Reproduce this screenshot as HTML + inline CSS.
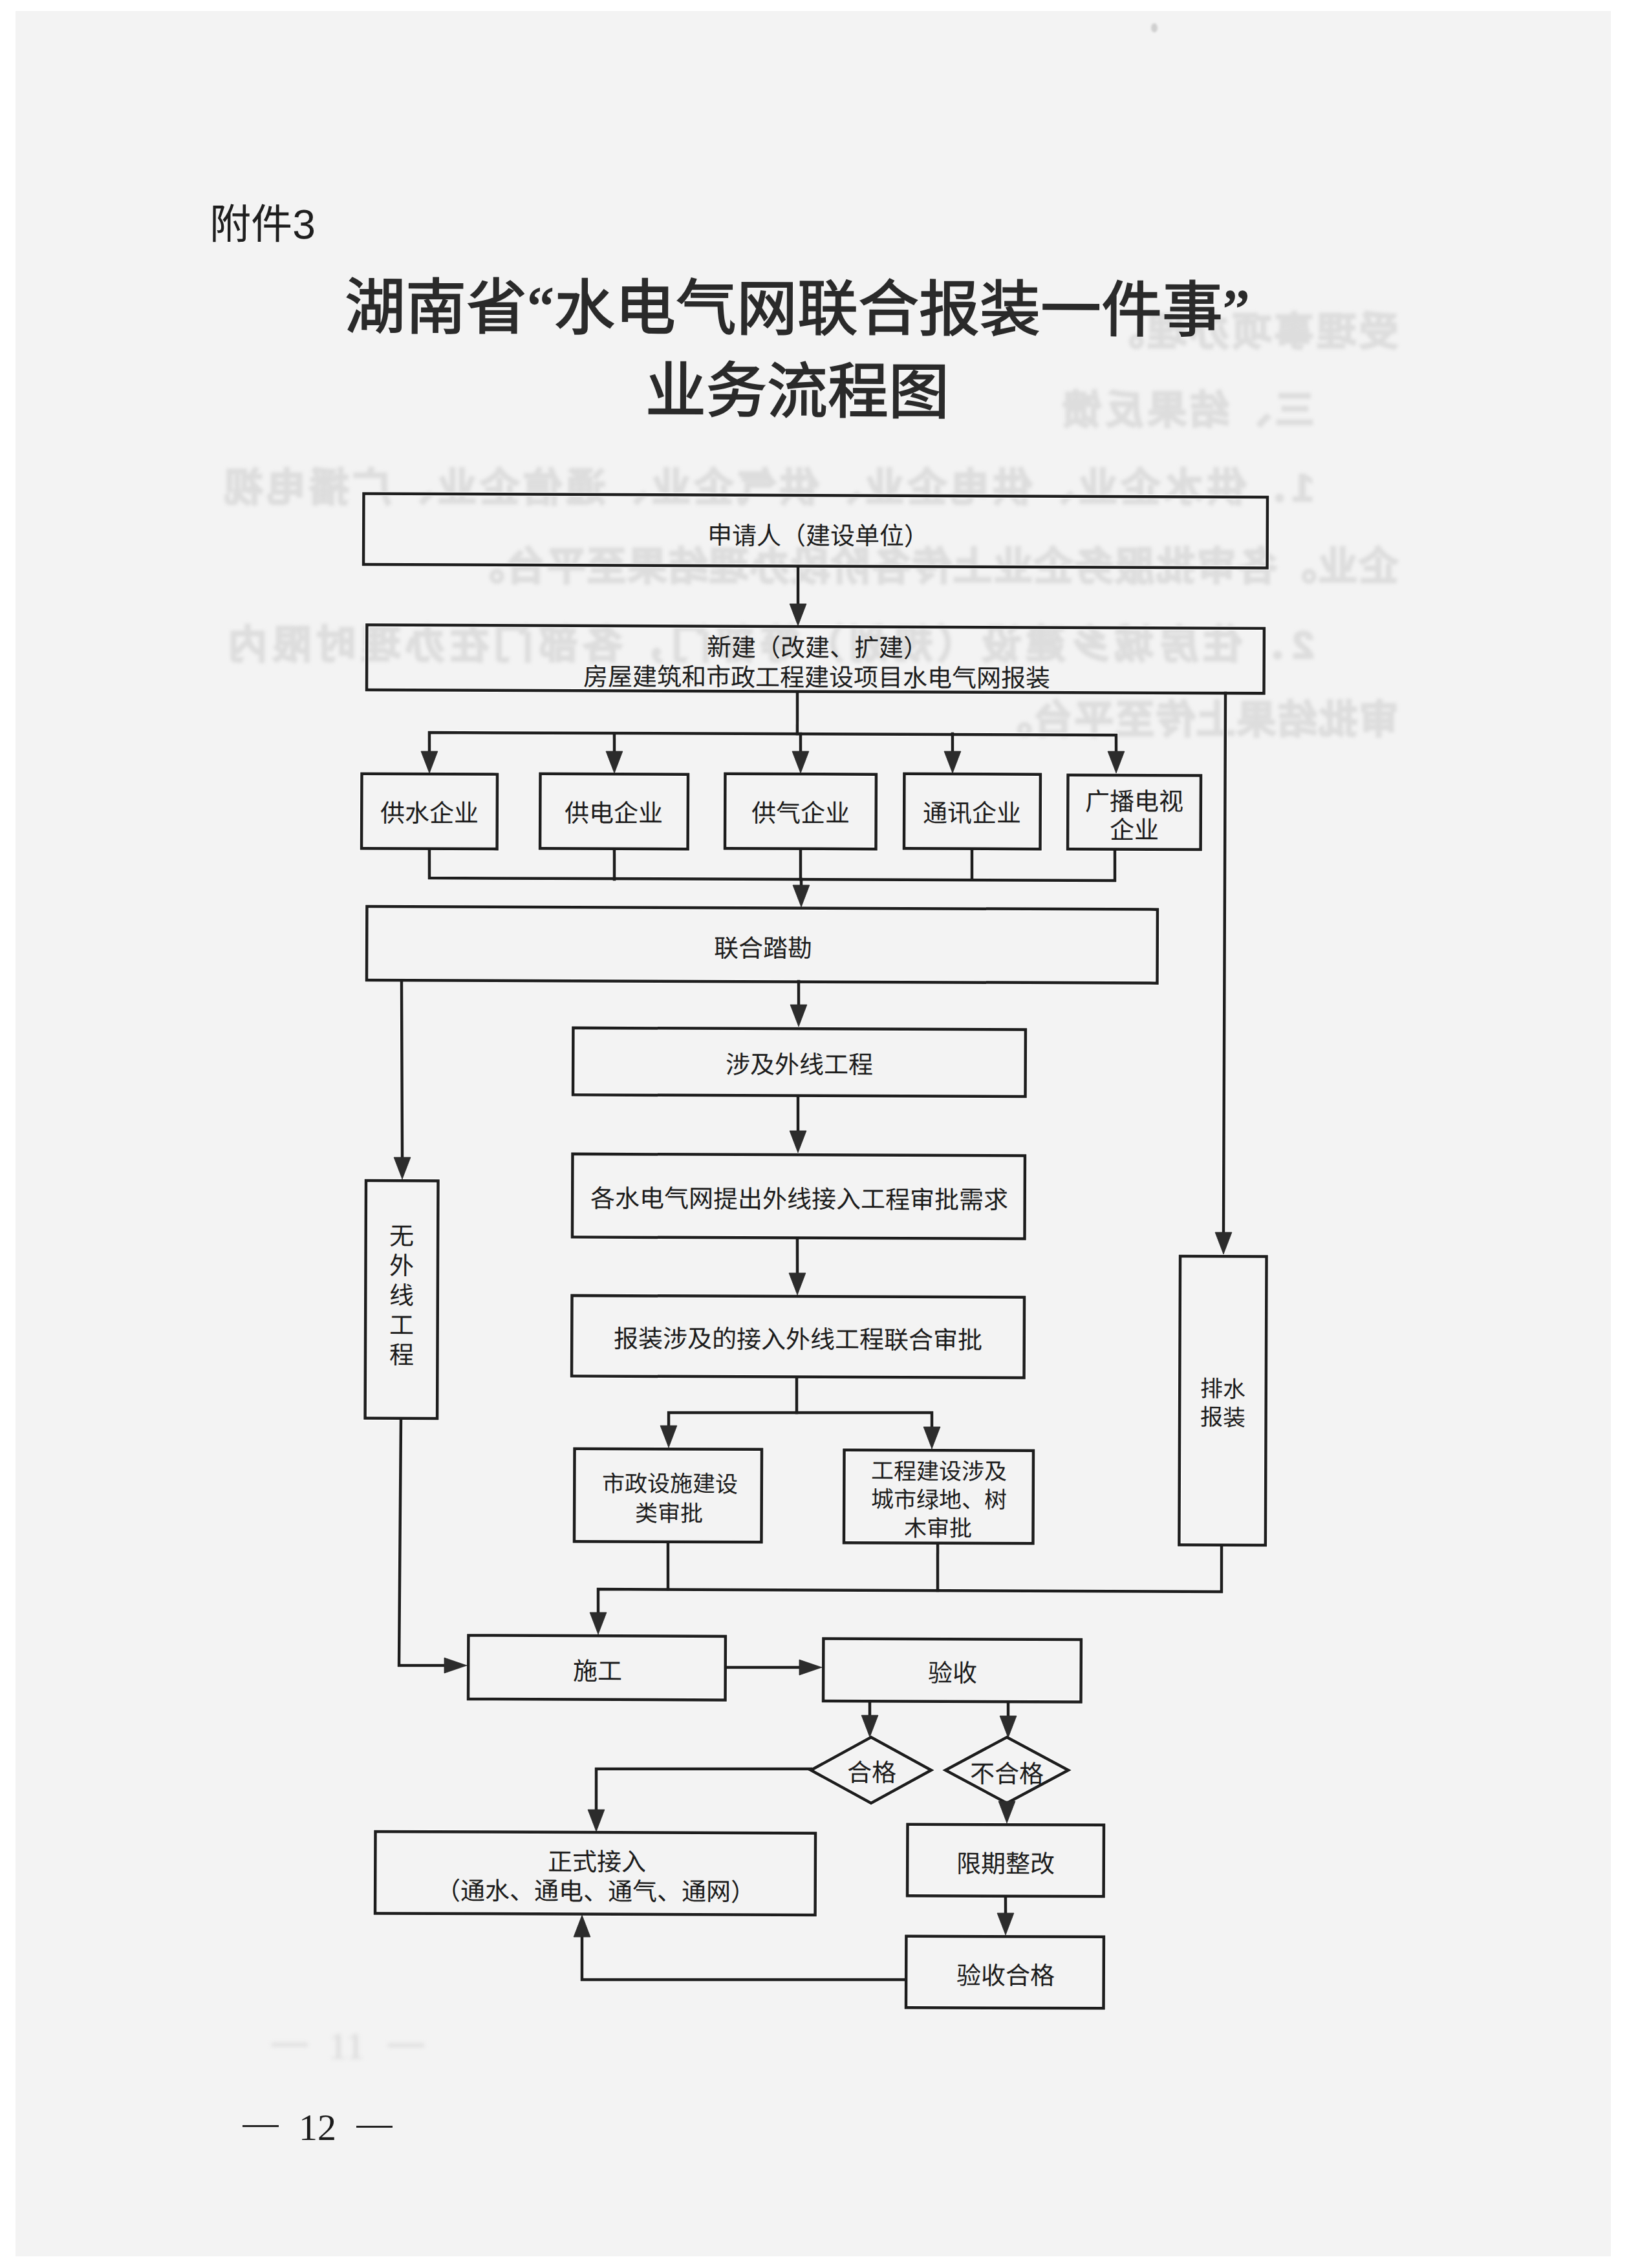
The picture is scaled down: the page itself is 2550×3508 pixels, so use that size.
<!DOCTYPE html>
<html lang="zh-CN"><head><meta charset="utf-8"><title>湖南省水电气网联合报装一件事业务流程图</title>
<style>
html,body{margin:0;padding:0;width:2550px;height:3508px;overflow:hidden;background:#fff}
.paper{position:absolute;left:24px;top:17px;width:2467px;height:3473px;background:#f3f3f3}
.layer{position:absolute;left:0;top:0;width:2550px;height:3508px}
#content{transform:rotate(0.22deg);transform-origin:1232px 1750px}
.fj{position:absolute;left:319px;top:317.8px;font-family:"Liberation Sans",sans-serif;font-size:64px;line-height:64px;color:#1e1e1e;white-space:nowrap}
.title{font-size:93.7px;line-height:93.7px}
.dash{position:absolute;width:56px;height:2.5px;background:#222}
.pn{position:absolute;left:462px;top:3262px;font-family:"Liberation Serif",serif;font-size:58px;line-height:58px;color:#1a1a1a}
.bleedlayer{position:absolute;left:0;top:0}
.bleedn{position:absolute;height:5px;background:#dcdcdc;filter:blur(3px)}
.bleedd{position:absolute;font-family:"Liberation Serif",serif;font-size:58px;line-height:58px;color:#d8d8d8;filter:blur(3px)}
.t{position:absolute;width:2000px;text-align:center;white-space:nowrap;font-family:"Liberation Sans",sans-serif;color:#1c1c1c}
.title{position:absolute;width:2000px;text-align:center;white-space:nowrap;font-family:"Liberation Serif",serif;font-weight:normal;color:#2a2a2a;-webkit-text-stroke:2px #2a2a2a}
.bleed{position:absolute;white-space:nowrap;font-family:"Liberation Sans",sans-serif;font-weight:900;color:#dddddd;font-size:60px;line-height:60px;height:60px;text-align:justify;text-align-last:justify;transform:scaleX(-1);filter:blur(2.5px);-webkit-text-stroke:2.5px #dddddd}
</style></head><body>
<div class="paper"></div>
<div class="bleedlayer">
<div style="position:absolute;left:1780px;top:36px;width:10px;height:14px;border-radius:50%;background:#cfcfcf;filter:blur(1.5px)"></div>
<div class="bleed" style="left:1709px;top:484.0px;width:453px">受理事项办理。</div>
<div class="bleed" style="left:1643px;top:605.0px;width:389px">三、结果反馈</div>
<div class="bleed" style="left:347px;top:725.0px;width:1685px">1．供水企业、供电企业、供气企业、通信企业、广播电视</div>
<div class="bleed" style="left:720px;top:847.0px;width:1442px">企业。各审批服务企业上传各阶段办理结果至平台。</div>
<div class="bleed" style="left:353px;top:968.0px;width:1679px">2．住房城乡建设（规划）等部门，各部门在办理时限内</div>
<div class="bleed" style="left:1536px;top:1084.0px;width:626px">审批结果上传至平台。</div>
<div class="bleedn" style="left:420px;top:3160px;width:56px"></div>
<div class="bleedd" style="left:508px;top:3136px">11</div>
<div class="bleedn" style="left:600px;top:3161px;width:56px"></div>
</div>
<div class="layer" id="content">
<div class="fj">附件3</div>
<div class="title" style="left:228px;top:432.3px">湖南省“水电气网联合报装一件事”</div>
<div class="title" style="left:229px;top:559.8px">业务流程图</div>
<svg class="layer" width="2550" height="3508" viewBox="0 0 2550 3508">
<rect x="558.7" y="766.1" width="1397.5" height="109.5" fill="none" stroke="#fcfcfc" stroke-width="7.1"/>
<polyline points="1230.7,878.0 1230.9,940.0" fill="none" stroke="#fcfcfc" stroke-width="7.1" stroke-linejoin="miter" stroke-linecap="butt"/>
<polygon points="1231.0,968.0 1217.9,934.0 1243.9,933.9" fill="#fcfcfc" stroke="#fcfcfc" stroke-width="2.6" stroke-linejoin="round"/>
<rect x="564.4" y="969.1" width="1387.5" height="100.5" fill="none" stroke="#fcfcfc" stroke-width="7.1"/>
<polyline points="1230.4,1072.0 1230.6,1135.0" fill="none" stroke="#fcfcfc" stroke-width="7.1" stroke-linejoin="miter" stroke-linecap="butt"/>
<polyline points="661.8,1172.2 661.6,1135.2 1723.6,1135.1 1723.8,1168.1" fill="none" stroke="#fcfcfc" stroke-width="7.1" stroke-linejoin="miter" stroke-linecap="butt"/>
<polyline points="947.6,1136.1 947.8,1171.1" fill="none" stroke="#fcfcfc" stroke-width="7.1" stroke-linejoin="miter" stroke-linecap="butt"/>
<polyline points="1235.6,1135.0 1235.8,1170.0" fill="none" stroke="#fcfcfc" stroke-width="7.1" stroke-linejoin="miter" stroke-linecap="butt"/>
<polyline points="1470.6,1134.1 1470.8,1169.1" fill="none" stroke="#fcfcfc" stroke-width="7.1" stroke-linejoin="miter" stroke-linecap="butt"/>
<polygon points="661.9,1198.2 648.7,1164.2 674.7,1164.1" fill="#fcfcfc" stroke="#fcfcfc" stroke-width="2.6" stroke-linejoin="round"/>
<polygon points="947.9,1197.1 934.7,1163.1 960.7,1163.0" fill="#fcfcfc" stroke="#fcfcfc" stroke-width="2.6" stroke-linejoin="round"/>
<polygon points="1235.9,1196.0 1222.7,1162.0 1248.7,1161.9" fill="#fcfcfc" stroke="#fcfcfc" stroke-width="2.6" stroke-linejoin="round"/>
<polygon points="1470.9,1195.1 1457.7,1161.1 1483.7,1161.0" fill="#fcfcfc" stroke="#fcfcfc" stroke-width="2.6" stroke-linejoin="round"/>
<polygon points="1723.9,1194.1 1710.7,1160.2 1736.7,1160.1" fill="#fcfcfc" stroke="#fcfcfc" stroke-width="2.6" stroke-linejoin="round"/>
<rect x="557.4" y="1199.4" width="209.5" height="115.5" fill="none" stroke="#fcfcfc" stroke-width="7.1"/>
<rect x="833.4" y="1198.3" width="228.5" height="115.5" fill="none" stroke="#fcfcfc" stroke-width="7.1"/>
<rect x="1119.3" y="1197.2" width="233.5" height="115.5" fill="none" stroke="#fcfcfc" stroke-width="7.1"/>
<rect x="1396.3" y="1196.2" width="210.5" height="115.5" fill="none" stroke="#fcfcfc" stroke-width="7.1"/>
<rect x="1649.4" y="1197.2" width="205.5" height="114.5" fill="none" stroke="#fcfcfc" stroke-width="7.1"/>
<polyline points="662.3,1317.2 662.5,1360.2 1722.5,1360.1 1722.3,1314.1" fill="none" stroke="#fcfcfc" stroke-width="7.1" stroke-linejoin="miter" stroke-linecap="butt"/>
<polyline points="948.3,1316.1 948.5,1361.1" fill="none" stroke="#fcfcfc" stroke-width="7.1" stroke-linejoin="miter" stroke-linecap="butt"/>
<polyline points="1236.3,1315.0 1236.5,1360.0" fill="none" stroke="#fcfcfc" stroke-width="7.1" stroke-linejoin="miter" stroke-linecap="butt"/>
<polyline points="1501.3,1314.0 1501.5,1359.0" fill="none" stroke="#fcfcfc" stroke-width="7.1" stroke-linejoin="miter" stroke-linecap="butt"/>
<polyline points="1237.5,1360.0 1237.6,1375.0" fill="none" stroke="#fcfcfc" stroke-width="7.1" stroke-linejoin="miter" stroke-linecap="butt"/>
<polygon points="1237.7,1403.0 1224.5,1369.0 1250.5,1368.9" fill="#fcfcfc" stroke="#fcfcfc" stroke-width="2.6" stroke-linejoin="round"/>
<polyline points="1892.4,1069.5 1892.6,1902.5" fill="none" stroke="#fcfcfc" stroke-width="7.1" stroke-linejoin="miter" stroke-linecap="butt"/>
<polygon points="1892.7,1937.5 1879.6,1903.5 1905.6,1903.4" fill="#fcfcfc" stroke="#fcfcfc" stroke-width="2.6" stroke-linejoin="round"/>
<rect x="566.1" y="1404.5" width="1222.5" height="114.0" fill="none" stroke="#fcfcfc" stroke-width="7.1"/>
<polyline points="620.1,1520.3 622.2,1792.3" fill="none" stroke="#fcfcfc" stroke-width="7.1" stroke-linejoin="miter" stroke-linecap="butt"/>
<polygon points="622.3,1826.3 609.2,1792.4 635.2,1792.3" fill="#fcfcfc" stroke="#fcfcfc" stroke-width="2.6" stroke-linejoin="round"/>
<polyline points="1234.1,1518.0 1234.3,1560.0" fill="none" stroke="#fcfcfc" stroke-width="7.1" stroke-linejoin="miter" stroke-linecap="butt"/>
<polygon points="1234.4,1588.0 1221.2,1554.0 1247.2,1553.9" fill="#fcfcfc" stroke="#fcfcfc" stroke-width="2.6" stroke-linejoin="round"/>
<rect x="885.8" y="1591.2" width="699.5" height="103.5" fill="none" stroke="#fcfcfc" stroke-width="7.1"/>
<polyline points="1233.8,1697.0 1234.0,1755.0" fill="none" stroke="#fcfcfc" stroke-width="7.1" stroke-linejoin="miter" stroke-linecap="butt"/>
<polygon points="1234.1,1783.0 1221.0,1749.0 1247.0,1748.9" fill="#fcfcfc" stroke="#fcfcfc" stroke-width="2.6" stroke-linejoin="round"/>
<rect x="885.6" y="1786.2" width="699.5" height="128.5" fill="none" stroke="#fcfcfc" stroke-width="7.1"/>
<polyline points="1233.6,1917.0 1233.9,1975.0" fill="none" stroke="#fcfcfc" stroke-width="7.1" stroke-linejoin="miter" stroke-linecap="butt"/>
<polygon points="1234.0,2003.0 1220.8,1969.0 1246.8,1968.9" fill="#fcfcfc" stroke="#fcfcfc" stroke-width="2.6" stroke-linejoin="round"/>
<rect x="885.5" y="2005.2" width="699.5" height="124.5" fill="none" stroke="#fcfcfc" stroke-width="7.1"/>
<polyline points="1233.5,2132.0 1233.7,2185.0" fill="none" stroke="#fcfcfc" stroke-width="7.1" stroke-linejoin="miter" stroke-linecap="butt"/>
<polyline points="1035.8,2210.8 1035.7,2185.8 1442.7,2184.2 1442.8,2209.2" fill="none" stroke="#fcfcfc" stroke-width="7.1" stroke-linejoin="miter" stroke-linecap="butt"/>
<polygon points="1035.9,2239.8 1022.7,2205.8 1048.7,2205.7" fill="#fcfcfc" stroke="#fcfcfc" stroke-width="2.6" stroke-linejoin="round"/>
<polygon points="1442.9,2240.2 1429.8,2206.2 1455.8,2206.1" fill="#fcfcfc" stroke="#fcfcfc" stroke-width="2.6" stroke-linejoin="round"/>
<rect x="890.4" y="2242.0" width="289.5" height="143.5" fill="none" stroke="#fcfcfc" stroke-width="7.1"/>
<rect x="1307.4" y="2242.4" width="292.5" height="143.5" fill="none" stroke="#fcfcfc" stroke-width="7.1"/>
<rect x="566.3" y="1828.6" width="111.5" height="367.5" fill="none" stroke="#fcfcfc" stroke-width="7.1"/>
<rect x="1825.8" y="1940.7" width="133.5" height="446.5" fill="none" stroke="#fcfcfc" stroke-width="7.1"/>
<polyline points="1035.4,2387.8 1035.7,2458.8" fill="none" stroke="#fcfcfc" stroke-width="7.1" stroke-linejoin="miter" stroke-linecap="butt"/>
<polyline points="1452.5,2388.2 1452.7,2459.2" fill="none" stroke="#fcfcfc" stroke-width="7.1" stroke-linejoin="miter" stroke-linecap="butt"/>
<polyline points="1891.5,2389.5 1891.7,2459.5 927.7,2459.2 927.9,2501.2" fill="none" stroke="#fcfcfc" stroke-width="7.1" stroke-linejoin="miter" stroke-linecap="butt"/>
<polygon points="928.0,2529.2 914.9,2495.2 940.9,2495.1" fill="#fcfcfc" stroke="#fcfcfc" stroke-width="2.6" stroke-linejoin="round"/>
<polyline points="621.7,2198.3 620.2,2578.4 693.2,2578.1" fill="none" stroke="#fcfcfc" stroke-width="7.1" stroke-linejoin="miter" stroke-linecap="butt"/>
<polygon points="725.2,2578.0 690.1,2566.1 690.2,2590.1" fill="#fcfcfc" stroke="#fcfcfc" stroke-width="2.6" stroke-linejoin="round"/>
<rect x="727.4" y="2531.4" width="397.5" height="98.5" fill="none" stroke="#fcfcfc" stroke-width="7.1"/>
<polyline points="1126.2,2579.4 1243.2,2579.0" fill="none" stroke="#fcfcfc" stroke-width="7.1" stroke-linejoin="miter" stroke-linecap="butt"/>
<polygon points="1274.2,2578.8 1239.1,2567.0 1239.2,2591.0" fill="#fcfcfc" stroke="#fcfcfc" stroke-width="2.6" stroke-linejoin="round"/>
<rect x="1276.4" y="2534.3" width="398.5" height="96.5" fill="none" stroke="#fcfcfc" stroke-width="7.1"/>
<polyline points="1348.4,2633.6 1348.5,2659.6" fill="none" stroke="#fcfcfc" stroke-width="7.1" stroke-linejoin="miter" stroke-linecap="butt"/>
<polygon points="1348.6,2686.6 1335.5,2652.6 1361.5,2652.5" fill="#fcfcfc" stroke="#fcfcfc" stroke-width="2.6" stroke-linejoin="round"/>
<polyline points="1562.4,2632.7 1562.5,2658.7" fill="none" stroke="#fcfcfc" stroke-width="7.1" stroke-linejoin="miter" stroke-linecap="butt"/>
<polygon points="1562.6,2686.7 1549.5,2652.8 1575.5,2652.7" fill="#fcfcfc" stroke="#fcfcfc" stroke-width="2.6" stroke-linejoin="round"/>
<polygon points="1350.6,2686.6 1443.8,2737.2 1351.0,2788.6 1257.8,2737.9" fill="none" stroke="#fcfcfc" stroke-width="7.1" stroke-linejoin="miter"/>
<polygon points="1560.6,2685.7 1655.8,2736.4 1561.0,2787.7 1465.8,2737.1" fill="none" stroke="#fcfcfc" stroke-width="7.1" stroke-linejoin="miter"/>
<polyline points="1257.8,2735.9 925.8,2737.2 926.0,2801.2" fill="none" stroke="#fcfcfc" stroke-width="7.1" stroke-linejoin="miter" stroke-linecap="butt"/>
<polygon points="926.2,2834.2 913.0,2800.2 939.0,2800.1" fill="#fcfcfc" stroke="#fcfcfc" stroke-width="2.6" stroke-linejoin="round"/>
<rect x="584.7" y="2835.4" width="680.5" height="126.5" fill="none" stroke="#fcfcfc" stroke-width="7.1"/>
<polygon points="1561.1,2818.7 1548.0,2784.8 1574.0,2784.7" fill="#fcfcfc" stroke="#fcfcfc" stroke-width="2.6" stroke-linejoin="round"/>
<rect x="1407.6" y="2821.0" width="303.5" height="110.5" fill="none" stroke="#fcfcfc" stroke-width="7.1"/>
<polyline points="1559.5,2933.8 1559.7,2963.8" fill="none" stroke="#fcfcfc" stroke-width="7.1" stroke-linejoin="miter" stroke-linecap="butt"/>
<polygon points="1559.8,2991.8 1546.6,2957.8 1572.6,2957.7" fill="#fcfcfc" stroke="#fcfcfc" stroke-width="2.6" stroke-linejoin="round"/>
<rect x="1406.2" y="2994.0" width="305.5" height="110.5" fill="none" stroke="#fcfcfc" stroke-width="7.1"/>
<polyline points="1404.0,3061.3 905.0,3063.3 904.8,2996.3" fill="none" stroke="#fcfcfc" stroke-width="7.1" stroke-linejoin="miter" stroke-linecap="butt"/>
<polygon points="904.7,2963.3 891.8,2997.3 917.8,2997.2" fill="#fcfcfc" stroke="#fcfcfc" stroke-width="2.6" stroke-linejoin="round"/>
<rect x="558.7" y="766.1" width="1397.5" height="109.5" fill="none" stroke="#1d1d1d" stroke-width="4.5"/>
<polyline points="1230.7,878.0 1230.9,940.0" fill="none" stroke="#1d1d1d" stroke-width="4.5" stroke-linejoin="miter" stroke-linecap="square"/>
<polygon points="1231.0,968.0 1217.9,934.0 1243.9,933.9" fill="#2c2c2c" stroke="#2c2c2c" stroke-width="0.8" stroke-linejoin="miter"/>
<rect x="564.4" y="969.1" width="1387.5" height="100.5" fill="none" stroke="#1d1d1d" stroke-width="4.5"/>
<polyline points="1230.4,1072.0 1230.6,1135.0" fill="none" stroke="#1d1d1d" stroke-width="4.5" stroke-linejoin="miter" stroke-linecap="square"/>
<polyline points="661.8,1172.2 661.6,1135.2 1723.6,1135.1 1723.8,1168.1" fill="none" stroke="#1d1d1d" stroke-width="4.5" stroke-linejoin="miter" stroke-linecap="square"/>
<polyline points="947.6,1136.1 947.8,1171.1" fill="none" stroke="#1d1d1d" stroke-width="4.5" stroke-linejoin="miter" stroke-linecap="square"/>
<polyline points="1235.6,1135.0 1235.8,1170.0" fill="none" stroke="#1d1d1d" stroke-width="4.5" stroke-linejoin="miter" stroke-linecap="square"/>
<polyline points="1470.6,1134.1 1470.8,1169.1" fill="none" stroke="#1d1d1d" stroke-width="4.5" stroke-linejoin="miter" stroke-linecap="square"/>
<polygon points="661.9,1198.2 648.7,1164.2 674.7,1164.1" fill="#2c2c2c" stroke="#2c2c2c" stroke-width="0.8" stroke-linejoin="miter"/>
<polygon points="947.9,1197.1 934.7,1163.1 960.7,1163.0" fill="#2c2c2c" stroke="#2c2c2c" stroke-width="0.8" stroke-linejoin="miter"/>
<polygon points="1235.9,1196.0 1222.7,1162.0 1248.7,1161.9" fill="#2c2c2c" stroke="#2c2c2c" stroke-width="0.8" stroke-linejoin="miter"/>
<polygon points="1470.9,1195.1 1457.7,1161.1 1483.7,1161.0" fill="#2c2c2c" stroke="#2c2c2c" stroke-width="0.8" stroke-linejoin="miter"/>
<polygon points="1723.9,1194.1 1710.7,1160.2 1736.7,1160.1" fill="#2c2c2c" stroke="#2c2c2c" stroke-width="0.8" stroke-linejoin="miter"/>
<rect x="557.4" y="1199.4" width="209.5" height="115.5" fill="none" stroke="#1d1d1d" stroke-width="4.5"/>
<rect x="833.4" y="1198.3" width="228.5" height="115.5" fill="none" stroke="#1d1d1d" stroke-width="4.5"/>
<rect x="1119.3" y="1197.2" width="233.5" height="115.5" fill="none" stroke="#1d1d1d" stroke-width="4.5"/>
<rect x="1396.3" y="1196.2" width="210.5" height="115.5" fill="none" stroke="#1d1d1d" stroke-width="4.5"/>
<rect x="1649.4" y="1197.2" width="205.5" height="114.5" fill="none" stroke="#1d1d1d" stroke-width="4.5"/>
<polyline points="662.3,1317.2 662.5,1360.2 1722.5,1360.1 1722.3,1314.1" fill="none" stroke="#1d1d1d" stroke-width="4.5" stroke-linejoin="miter" stroke-linecap="square"/>
<polyline points="948.3,1316.1 948.5,1361.1" fill="none" stroke="#1d1d1d" stroke-width="4.5" stroke-linejoin="miter" stroke-linecap="square"/>
<polyline points="1236.3,1315.0 1236.5,1360.0" fill="none" stroke="#1d1d1d" stroke-width="4.5" stroke-linejoin="miter" stroke-linecap="square"/>
<polyline points="1501.3,1314.0 1501.5,1359.0" fill="none" stroke="#1d1d1d" stroke-width="4.5" stroke-linejoin="miter" stroke-linecap="square"/>
<polyline points="1237.5,1360.0 1237.6,1375.0" fill="none" stroke="#1d1d1d" stroke-width="4.5" stroke-linejoin="miter" stroke-linecap="square"/>
<polygon points="1237.7,1403.0 1224.5,1369.0 1250.5,1368.9" fill="#2c2c2c" stroke="#2c2c2c" stroke-width="0.8" stroke-linejoin="miter"/>
<polyline points="1892.4,1069.5 1892.6,1902.5" fill="none" stroke="#1d1d1d" stroke-width="4.5" stroke-linejoin="miter" stroke-linecap="square"/>
<polygon points="1892.7,1937.5 1879.6,1903.5 1905.6,1903.4" fill="#2c2c2c" stroke="#2c2c2c" stroke-width="0.8" stroke-linejoin="miter"/>
<rect x="566.1" y="1404.5" width="1222.5" height="114.0" fill="none" stroke="#1d1d1d" stroke-width="4.5"/>
<polyline points="620.1,1520.3 622.2,1792.3" fill="none" stroke="#1d1d1d" stroke-width="4.5" stroke-linejoin="miter" stroke-linecap="square"/>
<polygon points="622.3,1826.3 609.2,1792.4 635.2,1792.3" fill="#2c2c2c" stroke="#2c2c2c" stroke-width="0.8" stroke-linejoin="miter"/>
<polyline points="1234.1,1518.0 1234.3,1560.0" fill="none" stroke="#1d1d1d" stroke-width="4.5" stroke-linejoin="miter" stroke-linecap="square"/>
<polygon points="1234.4,1588.0 1221.2,1554.0 1247.2,1553.9" fill="#2c2c2c" stroke="#2c2c2c" stroke-width="0.8" stroke-linejoin="miter"/>
<rect x="885.8" y="1591.2" width="699.5" height="103.5" fill="none" stroke="#1d1d1d" stroke-width="4.5"/>
<polyline points="1233.8,1697.0 1234.0,1755.0" fill="none" stroke="#1d1d1d" stroke-width="4.5" stroke-linejoin="miter" stroke-linecap="square"/>
<polygon points="1234.1,1783.0 1221.0,1749.0 1247.0,1748.9" fill="#2c2c2c" stroke="#2c2c2c" stroke-width="0.8" stroke-linejoin="miter"/>
<rect x="885.6" y="1786.2" width="699.5" height="128.5" fill="none" stroke="#1d1d1d" stroke-width="4.5"/>
<polyline points="1233.6,1917.0 1233.9,1975.0" fill="none" stroke="#1d1d1d" stroke-width="4.5" stroke-linejoin="miter" stroke-linecap="square"/>
<polygon points="1234.0,2003.0 1220.8,1969.0 1246.8,1968.9" fill="#2c2c2c" stroke="#2c2c2c" stroke-width="0.8" stroke-linejoin="miter"/>
<rect x="885.5" y="2005.2" width="699.5" height="124.5" fill="none" stroke="#1d1d1d" stroke-width="4.5"/>
<polyline points="1233.5,2132.0 1233.7,2185.0" fill="none" stroke="#1d1d1d" stroke-width="4.5" stroke-linejoin="miter" stroke-linecap="square"/>
<polyline points="1035.8,2210.8 1035.7,2185.8 1442.7,2184.2 1442.8,2209.2" fill="none" stroke="#1d1d1d" stroke-width="4.5" stroke-linejoin="miter" stroke-linecap="square"/>
<polygon points="1035.9,2239.8 1022.7,2205.8 1048.7,2205.7" fill="#2c2c2c" stroke="#2c2c2c" stroke-width="0.8" stroke-linejoin="miter"/>
<polygon points="1442.9,2240.2 1429.8,2206.2 1455.8,2206.1" fill="#2c2c2c" stroke="#2c2c2c" stroke-width="0.8" stroke-linejoin="miter"/>
<rect x="890.4" y="2242.0" width="289.5" height="143.5" fill="none" stroke="#1d1d1d" stroke-width="4.5"/>
<rect x="1307.4" y="2242.4" width="292.5" height="143.5" fill="none" stroke="#1d1d1d" stroke-width="4.5"/>
<rect x="566.3" y="1828.6" width="111.5" height="367.5" fill="none" stroke="#1d1d1d" stroke-width="4.5"/>
<rect x="1825.8" y="1940.7" width="133.5" height="446.5" fill="none" stroke="#1d1d1d" stroke-width="4.5"/>
<polyline points="1035.4,2387.8 1035.7,2458.8" fill="none" stroke="#1d1d1d" stroke-width="4.5" stroke-linejoin="miter" stroke-linecap="square"/>
<polyline points="1452.5,2388.2 1452.7,2459.2" fill="none" stroke="#1d1d1d" stroke-width="4.5" stroke-linejoin="miter" stroke-linecap="square"/>
<polyline points="1891.5,2389.5 1891.7,2459.5 927.7,2459.2 927.9,2501.2" fill="none" stroke="#1d1d1d" stroke-width="4.5" stroke-linejoin="miter" stroke-linecap="square"/>
<polygon points="928.0,2529.2 914.9,2495.2 940.9,2495.1" fill="#2c2c2c" stroke="#2c2c2c" stroke-width="0.8" stroke-linejoin="miter"/>
<polyline points="621.7,2198.3 620.2,2578.4 693.2,2578.1" fill="none" stroke="#1d1d1d" stroke-width="4.5" stroke-linejoin="miter" stroke-linecap="square"/>
<polygon points="725.2,2578.0 690.1,2566.1 690.2,2590.1" fill="#2c2c2c" stroke="#2c2c2c" stroke-width="0.8" stroke-linejoin="miter"/>
<rect x="727.4" y="2531.4" width="397.5" height="98.5" fill="none" stroke="#1d1d1d" stroke-width="4.5"/>
<polyline points="1126.2,2579.4 1243.2,2579.0" fill="none" stroke="#1d1d1d" stroke-width="4.5" stroke-linejoin="miter" stroke-linecap="square"/>
<polygon points="1274.2,2578.8 1239.1,2567.0 1239.2,2591.0" fill="#2c2c2c" stroke="#2c2c2c" stroke-width="0.8" stroke-linejoin="miter"/>
<rect x="1276.4" y="2534.3" width="398.5" height="96.5" fill="none" stroke="#1d1d1d" stroke-width="4.5"/>
<polyline points="1348.4,2633.6 1348.5,2659.6" fill="none" stroke="#1d1d1d" stroke-width="4.5" stroke-linejoin="miter" stroke-linecap="square"/>
<polygon points="1348.6,2686.6 1335.5,2652.6 1361.5,2652.5" fill="#2c2c2c" stroke="#2c2c2c" stroke-width="0.8" stroke-linejoin="miter"/>
<polyline points="1562.4,2632.7 1562.5,2658.7" fill="none" stroke="#1d1d1d" stroke-width="4.5" stroke-linejoin="miter" stroke-linecap="square"/>
<polygon points="1562.6,2686.7 1549.5,2652.8 1575.5,2652.7" fill="#2c2c2c" stroke="#2c2c2c" stroke-width="0.8" stroke-linejoin="miter"/>
<polygon points="1350.6,2686.6 1443.8,2737.2 1351.0,2788.6 1257.8,2737.9" fill="none" stroke="#1d1d1d" stroke-width="4.5" stroke-linejoin="miter"/>
<polygon points="1560.6,2685.7 1655.8,2736.4 1561.0,2787.7 1465.8,2737.1" fill="none" stroke="#1d1d1d" stroke-width="4.5" stroke-linejoin="miter"/>
<polyline points="1257.8,2735.9 925.8,2737.2 926.0,2801.2" fill="none" stroke="#1d1d1d" stroke-width="4.5" stroke-linejoin="miter" stroke-linecap="square"/>
<polygon points="926.2,2834.2 913.0,2800.2 939.0,2800.1" fill="#2c2c2c" stroke="#2c2c2c" stroke-width="0.8" stroke-linejoin="miter"/>
<rect x="584.7" y="2835.4" width="680.5" height="126.5" fill="none" stroke="#1d1d1d" stroke-width="4.5"/>
<polygon points="1561.1,2818.7 1548.0,2784.8 1574.0,2784.7" fill="#2c2c2c" stroke="#2c2c2c" stroke-width="0.8" stroke-linejoin="miter"/>
<rect x="1407.6" y="2821.0" width="303.5" height="110.5" fill="none" stroke="#1d1d1d" stroke-width="4.5"/>
<polyline points="1559.5,2933.8 1559.7,2963.8" fill="none" stroke="#1d1d1d" stroke-width="4.5" stroke-linejoin="miter" stroke-linecap="square"/>
<polygon points="1559.8,2991.8 1546.6,2957.8 1572.6,2957.7" fill="#2c2c2c" stroke="#2c2c2c" stroke-width="0.8" stroke-linejoin="miter"/>
<rect x="1406.2" y="2994.0" width="305.5" height="110.5" fill="none" stroke="#1d1d1d" stroke-width="4.5"/>
<polyline points="1404.0,3061.3 905.0,3063.3 904.8,2996.3" fill="none" stroke="#1d1d1d" stroke-width="4.5" stroke-linejoin="miter" stroke-linecap="square"/>
<polygon points="904.7,2963.3 891.8,2997.3 917.8,2997.2" fill="#2c2c2c" stroke="#2c2c2c" stroke-width="0.8" stroke-linejoin="miter"/>
</svg>
<div class="t" style="left:261.5px;top:809.8px;font-size:38px;height:38px;line-height:38px">申请人（建设单位）</div>
<div class="t" style="left:261.1px;top:982.8px;font-size:38px;height:38px;line-height:38px">新建（改建、扩建）</div>
<div class="t" style="left:260.3px;top:1028.8px;font-size:38px;height:38px;line-height:38px">房屋建筑和市政工程建设项目水电气网报装</div>
<div class="t" style="left:-337.9px;top:1241.1px;font-size:38px;height:38px;line-height:38px">供水企业</div>
<div class="t" style="left:-52.4px;top:1240.0px;font-size:38px;height:38px;line-height:38px">供电企业</div>
<div class="t" style="left:236.1px;top:1238.9px;font-size:38px;height:38px;line-height:38px">供气企业</div>
<div class="t" style="left:501.6px;top:1237.9px;font-size:38px;height:38px;line-height:38px">通讯企业</div>
<div class="t" style="left:752.0px;top:1218.9px;font-size:38px;height:38px;line-height:38px">广播电视</div>
<div class="t" style="left:752.2px;top:1262.9px;font-size:38px;height:38px;line-height:38px">企业</div>
<div class="t" style="left:178.9px;top:1448.1px;font-size:38px;height:38px;line-height:38px">联合踏勘</div>
<div class="t" style="left:235.6px;top:1627.9px;font-size:38px;height:38px;line-height:38px">涉及外线工程</div>
<div class="t" style="left:236.4px;top:1835.9px;font-size:38px;height:38px;line-height:38px">各水电气网提出外线接入工程审批需求</div>
<div class="t" style="left:235.2px;top:2052.9px;font-size:38px;height:38px;line-height:38px">报装涉及的接入外线工程联合审批</div>
<div class="t" style="left:38.1px;top:2278.0px;font-size:35px;height:35px;line-height:35px">市政设施建设</div>
<div class="t" style="left:37.3px;top:2324.0px;font-size:35px;height:35px;line-height:35px">类审批</div>
<div class="t" style="left:454.0px;top:2257.4px;font-size:35px;height:35px;line-height:35px">工程建设涉及</div>
<div class="t" style="left:454.2px;top:2301.4px;font-size:35px;height:35px;line-height:35px">城市绿地、树</div>
<div class="t" style="left:453.3px;top:2345.4px;font-size:35px;height:35px;line-height:35px">木审批</div>
<div class="t" style="left:-378.4px;top:1895.2px;font-size:38px;height:38px;line-height:38px">无</div>
<div class="t" style="left:-378.2px;top:1941.2px;font-size:38px;height:38px;line-height:38px">外</div>
<div class="t" style="left:-378.0px;top:1987.2px;font-size:38px;height:38px;line-height:38px">线</div>
<div class="t" style="left:-377.9px;top:2033.2px;font-size:38px;height:38px;line-height:38px">工</div>
<div class="t" style="left:-377.7px;top:2079.2px;font-size:38px;height:38px;line-height:38px">程</div>
<div class="t" style="left:892.5px;top:2127.7px;font-size:35px;height:35px;line-height:35px">排水</div>
<div class="t" style="left:892.7px;top:2171.7px;font-size:35px;height:35px;line-height:35px">报装</div>
<div class="t" style="left:-72.8px;top:2567.1px;font-size:38px;height:38px;line-height:38px">施工</div>
<div class="t" style="left:476.2px;top:2568.0px;font-size:38px;height:38px;line-height:38px">验收</div>
<div class="t" style="left:351.8px;top:2723.4px;font-size:38px;height:38px;line-height:38px">合格</div>
<div class="t" style="left:560.8px;top:2723.6px;font-size:38px;height:38px;line-height:38px">不合格</div>
<div class="t" style="left:-72.7px;top:2862.1px;font-size:38px;height:38px;line-height:38px">正式接入</div>
<div class="t" style="left:-74.5px;top:2908.1px;font-size:38px;height:38px;line-height:38px">（通水、通电、通气、通网）</div>
<div class="t" style="left:559.3px;top:2862.7px;font-size:38px;height:38px;line-height:38px">限期整改</div>
<div class="t" style="left:560.0px;top:3035.7px;font-size:38px;height:38px;line-height:38px">验收合格</div>
</div>
<div class="dash" style="left:375px;top:3287px"></div>
<div class="pn">12</div>
<div class="dash" style="left:551px;top:3288px"></div>
</body></html>
